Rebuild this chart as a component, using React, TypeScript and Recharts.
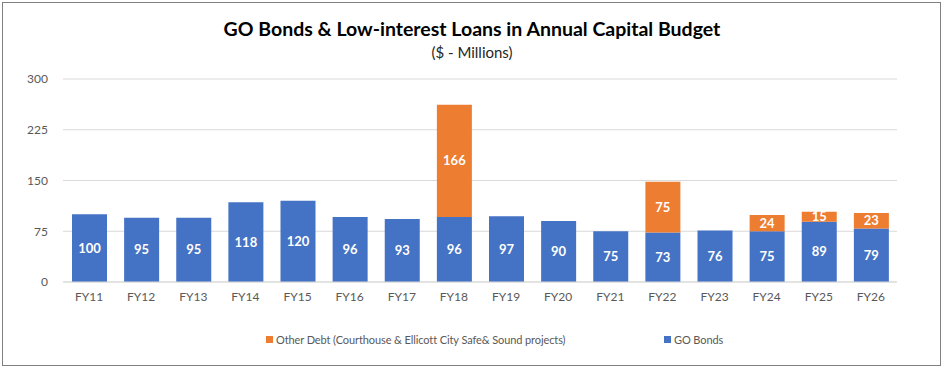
import React from "react";
import { BarChart, Bar, XAxis, YAxis, CartesianGrid, LabelList } from "recharts";

const categories = ["FY11","FY12","FY13","FY14","FY15","FY16","FY17","FY18","FY19","FY20","FY21","FY22","FY23","FY24","FY25","FY26"];
const goBonds = [100,95,95,118,120,96,93,96,97,90,75,73,76,75,89,79];
const otherDebt: (number | null)[] = [null,null,null,null,null,null,null,166,null,null,null,75,null,24,15,23];
const yTicks = [0,75,150,225,300];

const data = categories.map((c, i) => ({ name: c, go: goBonds[i], other: otherDebt[i] }));

const FONT = "Lato, 'Open Sans', sans-serif";
const BLUE = "#4472C4";
const ORANGE = "#ED7D31";

const renderLabel = (props: any) => {
  const { x, y, width, height, value } = props;
  if (value === null || value === undefined || value === 0) return null;
  return (
    <text x={x + width / 2} y={y + height / 2} dy="0.35em" textAnchor="middle" fill="#ffffff" fontSize={13} fontWeight={700} fontFamily={FONT}>
      {value}
    </text>
  );
};

export default function App() {
  return (
    <div style={{ position: "absolute", left: 0, top: 0, width: 944, height: 368, background: "#fff", fontFamily: FONT }}>
      <div style={{ position: "absolute", left: 2, top: 2, width: 937, height: 362, border: "1px solid #808080" }} />
      <div style={{ position: "absolute", left: 0, top: 17, width: 944, textAlign: "center", fontSize: 19.5, fontWeight: 700, color: "#000" }}>
        GO Bonds &amp; Low-interest Loans in Annual Capital Budget
      </div>
      <div style={{ position: "absolute", left: 0, top: 43, width: 944, textAlign: "center", fontSize: 15, color: "#262626" }}>
        ($ - Millions)
      </div>
      <div style={{ position: "absolute", left: 0, top: 0 }}>
        <BarChart width={944} height={368} data={data} margin={{ top: 79, right: 47, bottom: 56, left: 0 }} barSize={35}>
          <CartesianGrid vertical={false} stroke="#d9d9d9" />
          <XAxis dataKey="name" axisLine={{ stroke: "#d9d9d9" }} tickLine={false} tickMargin={4} tick={{ fill: "#595959", fontSize: 12, fontFamily: FONT }} />
          <YAxis width={63} domain={[0, 300]} ticks={yTicks} axisLine={false} tickLine={false} tickMargin={9} tick={{ fill: "#595959", fontSize: 12, fontFamily: FONT }} />
          <Bar dataKey="go" stackId="a" fill={BLUE} isAnimationActive={false}>
            <LabelList dataKey="go" content={renderLabel} />
          </Bar>
          <Bar dataKey="other" stackId="a" fill={ORANGE} isAnimationActive={false}>
            <LabelList dataKey="other" content={renderLabel} />
          </Bar>
        </BarChart>
      </div>
      <div style={{ position: "absolute", left: 266, top: 333, display: "flex", alignItems: "center", fontSize: 11, letterSpacing: -0.1, color: "#595959" }}>
        <span style={{ display: "inline-block", width: 7, height: 7, background: ORANGE, marginRight: 3 }} />
        <span>Other Debt (Courthouse &amp; Ellicott City Safe&amp; Sound projects)</span>
      </div>
      <div style={{ position: "absolute", left: 664, top: 333, display: "flex", alignItems: "center", fontSize: 11, letterSpacing: -0.1, color: "#595959" }}>
        <span style={{ display: "inline-block", width: 7, height: 7, background: BLUE, marginRight: 3 }} />
        <span>GO Bonds</span>
      </div>
    </div>
  );
}
